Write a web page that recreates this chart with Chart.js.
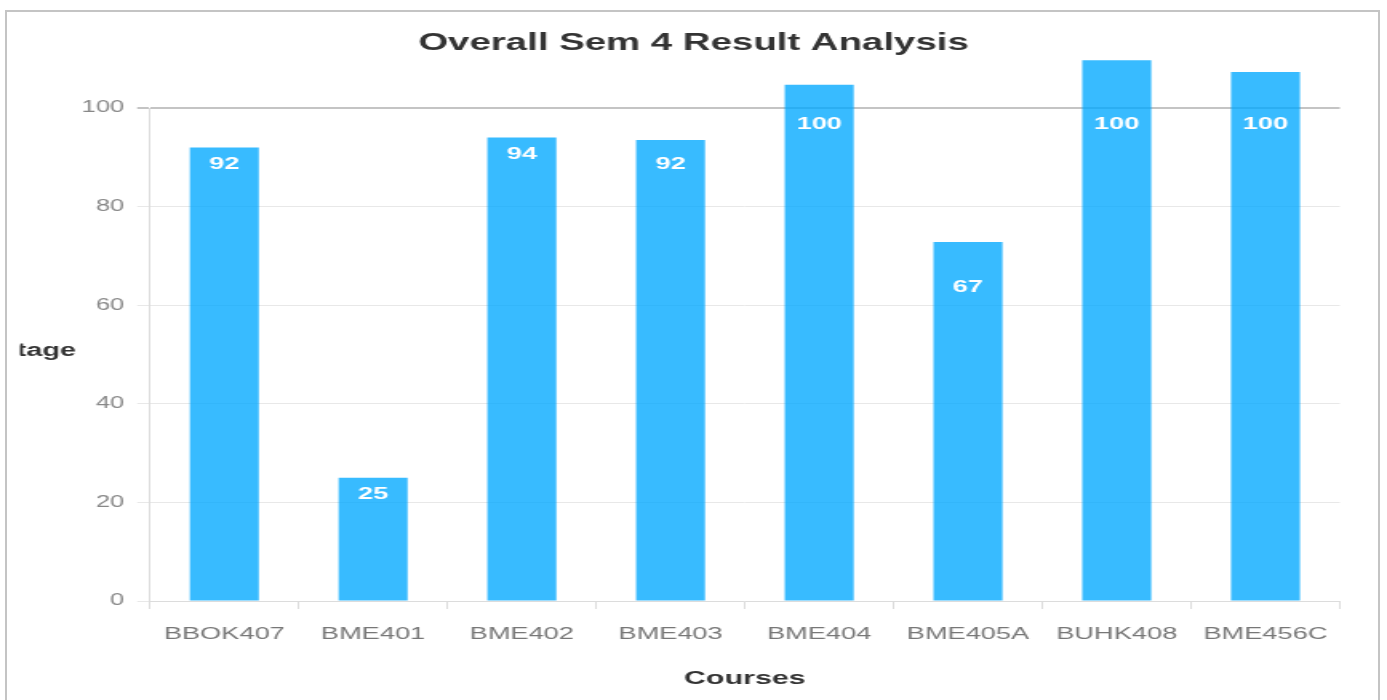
<!DOCTYPE html>
<html>
<head>
<meta charset="utf-8">
<title>Overall Sem 4 Result Analysis</title>
<script src="https://cdn.jsdelivr.net/npm/chart.js@4.4.1/dist/chart.umd.min.js"></script>
<style>
  html, body { margin: 0; padding: 0; background: #fff; overflow: hidden; }
  #wrap { position: absolute; left: 0; top: 0; width: 1387px; height: 700px; }
  #chart { position: absolute; left: 0; top: 0; }
  #frame { position: absolute; left: 5px; top: 10px; width: 1371px; height: 700px;
           border: 2px solid #c4c4c4; border-bottom: none; pointer-events: none; }
</style>
</head>
<body>
<div id="wrap">
  <!-- the original is stretched sideways, so the canvas is drawn narrow and widened by css -->
  <canvas id="chart" width="867" height="700" style="width:1387px;height:700px;"></canvas>
  <div id="frame"></div>
</div>
<script>
// data
var courses = ['BBOK407', 'BME401', 'BME402', 'BME403', 'BME404', 'BME405A', 'BUHK408', 'BME456C'];
var barHeights = [92, 25, 94, 93.5, 104.7, 72.8, 109.7, 107.3];   // drawn bar tops
var resultLabels = [92, 25, 94, 92, 100, 67, 100, 100];           // numbers printed in the bars
var yMin = 0, yMax = 100, yStep = 20;

var chartTitle = 'Overall Sem 4 Result Analysis';
var xTitle = 'Courses';
var yTitle = 'Percentage';

var textDark = '#333333';
var font = '"Liberation Sans", Arial, sans-serif';

// numbers inside the bars, placed at the printed value
var barLabels = {
  id: 'barLabels',
  afterDatasetsDraw: function(chart) {
    var ctx = chart.ctx;
    var meta = chart.getDatasetMeta(0);
    var y = chart.scales.y;
    ctx.save();
    ctx.fillStyle = '#ffffff';
    ctx.font = 'bold 17px ' + font;
    ctx.textAlign = 'center';
    ctx.textBaseline = 'middle';
    meta.data.forEach(function(bar, i) {
      ctx.fillText(String(resultLabels[i]), bar.x, y.getPixelForValue(resultLabels[i]) + 16.5);
    });
    ctx.restore();
  }
};

// horizontal y title, cut off by the left edge like the original
var sideTitle = {
  id: 'sideTitle',
  afterDraw: function(chart) {
    var ctx = chart.ctx;
    ctx.save();
    ctx.beginPath();
    ctx.rect(12.5, 0, chart.width, chart.height);
    ctx.clip();
    ctx.fillStyle = textDark;
    ctx.font = 'bold 18px ' + font;
    ctx.textAlign = 'right';
    ctx.textBaseline = 'middle';
    ctx.fillText(yTitle, 47.5, 351.5);
    ctx.restore();
  }
};

new Chart(document.getElementById('chart'), {
  type: 'bar',
  data: {
    labels: courses,
    datasets: [{
      label: 'Result %',
      data: barHeights,
      backgroundColor: 'rgba(0,168,255,0.78)',
      borderWidth: 0,
      barPercentage: 0.464,
      categoryPercentage: 1,
      clip: false
    }]
  },
  options: {
    responsive: false,
    animation: false,
    layout: { padding: { left: 29.5, right: 29.5, top: 0, bottom: 0 } },
    plugins: {
      legend: { display: false },
      tooltip: { enabled: false },
      title: {
        display: true,
        text: chartTitle,
        color: textDark,
        font: { family: font, size: 24, weight: 'bold' },
        padding: { top: 28.6, bottom: 50.6 }
      }
    },
    scales: {
      x: {
        grid: { display: true, drawOnChartArea: false, drawTicks: true, tickLength: 8, color: '#dcdcdc', offset: true },
        border: { color: '#dcdcdc', width: 1 },
        ticks: { color: '#777777', font: { family: font, size: 17 }, padding: 15, maxRotation: 0, autoSkip: false },
        title: { display: true, text: xTitle, color: textDark, font: { family: font, size: 19, weight: 'bold' }, padding: { top: 0, bottom: 9.6 } },
        afterFit: function(s) { s.height = 99; }
      },
      y: {
        min: yMin,
        max: yMax,
        grid: {
          tickLength: 8,
          color: function(c) { return c.tick && c.tick.value === yMax ? '#c4c4c4' : '#e8e8e8'; },
          lineWidth: function(c) { return c.tick && c.tick.value === yMax ? 2 : 1; }
        },
        border: { color: '#dcdcdc', width: 1 },
        ticks: { stepSize: yStep, includeBounds: false, color: '#888888', font: { family: font, size: 16 }, padding: 8 },
        afterFit: function(s) { s.width = 64.25; }
      }
    }
  },
  plugins: [barLabels, sideTitle]
});
</script>
</body>
</html>
